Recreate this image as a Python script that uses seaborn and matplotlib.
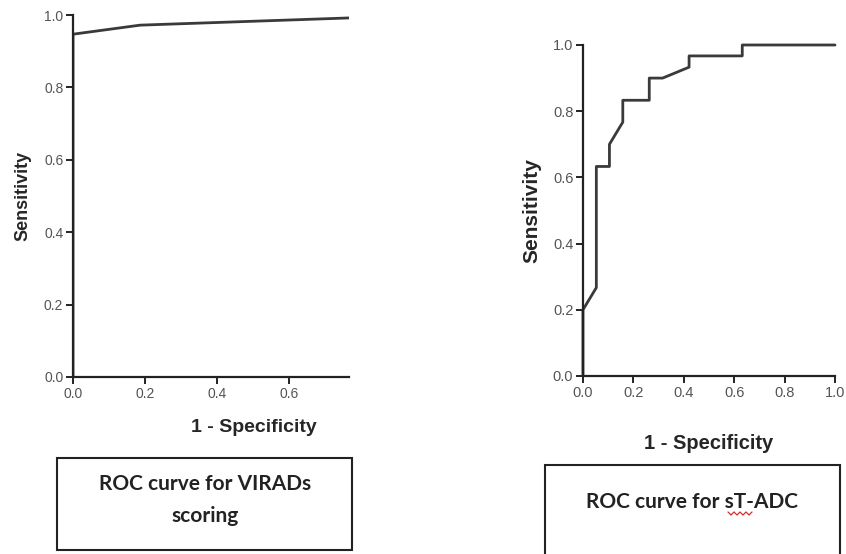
import matplotlib
matplotlib.use("Agg")
import matplotlib.pyplot as plt
from matplotlib.patches import Rectangle
from matplotlib.lines import Line2D
import numpy as np
import pandas as pd
import seaborn as sns

# ROC for VIRADs scoring (left panel, cropped at ~0.77 on x)
virads_fpr = [0.0, 0.0, 0.186, 1.0]
virads_tpr = [0.0, 0.947, 0.972, 1.0]

# ROC for sT-ADC (right panel)
adc_fpr = [0.0, 0.0, 0.053, 0.053, 0.105, 0.105, 0.158, 0.158, 0.263, 0.263,
           0.316, 0.421, 0.421, 0.632, 0.632, 1.0]
adc_tpr = [0.0, 0.2, 0.267, 0.633, 0.633, 0.7, 0.767, 0.833, 0.833, 0.9,
           0.9, 0.933, 0.967, 0.967, 1.0, 1.0]

ticks = [0.0, 0.2, 0.4, 0.6, 0.8, 1.0]
tick_labels = ['0.0', '0.2', '0.4', '0.6', '0.8', '1.0']

sns.set_style("ticks")
plt.rcParams['font.family'] = ['Liberation Sans', 'DejaVu Sans']

fig = plt.figure(figsize=(8.46, 5.54), dpi=100)

line_col = '#3a3a3a'
tick_col = '#555555'


def style_axis(ax, xlim, lab_size):
    ax.set_xlim(*xlim)
    ax.set_ylim(0, 1)
    sns.despine(ax=ax)
    for s in ['left', 'bottom']:
        ax.spines[s].set_linewidth(1.6)
        ax.spines[s].set_color('#222222')
    ax.set_xticks([t for t in ticks if t <= xlim[1] + 1e-9])
    ax.set_xticklabels([l for t, l in zip(ticks, tick_labels) if t <= xlim[1] + 1e-9])
    ax.set_yticks(ticks)
    ax.set_yticklabels(tick_labels)
    ax.tick_params(axis='both', length=5, width=1.4, color='#222222',
                   labelsize=lab_size, labelcolor=tick_col, pad=2)


# left panel
ax1 = fig.add_axes([0.0863, 0.3195, 0.3262, 0.6534])
df1 = pd.DataFrame({'fpr': virads_fpr, 'tpr': virads_tpr})
sns.lineplot(data=df1, x='fpr', y='tpr', ax=ax1, sort=False, estimator=None,
             color=line_col, linewidth=2)
style_axis(ax1, (0, 0.765), 10)
ax1.set_ylabel('Sensitivity', fontsize=13, fontweight='bold')
ax1.set_xlabel('1 - Specificity', fontsize=14, fontweight='bold')
ax1.yaxis.set_label_coords(-0.149, 0.5)
ax1.xaxis.set_label_coords(0.5 / 0.765, -0.115)

# right panel
ax2 = fig.add_axes([0.6891, 0.3213, 0.2979, 0.5975])
df2 = pd.DataFrame({'fpr': adc_fpr, 'tpr': adc_tpr})
sns.lineplot(data=df2, x='fpr', y='tpr', ax=ax2, sort=False, estimator=None,
             color=line_col, linewidth=2)
for ln in ax2.lines:
    ln.set_clip_on(False)
style_axis(ax2, (0, 1.0), 10.5)
ax2.set_ylabel('Sensitivity', fontsize=15, fontweight='bold')
ax2.set_xlabel('1 - Specificity', fontsize=14.5, fontweight='bold')
ax2.yaxis.set_label_coords(-0.163, 0.5)
ax2.xaxis.set_label_coords(0.5, -0.175)

# caption boxes
fig.patches.append(Rectangle((57 / 846, 1 - 550 / 554), 295 / 846, 92 / 554,
                             transform=fig.transFigure, fill=False,
                             edgecolor='#222222', linewidth=1.5))
fig.patches.append(Rectangle((545 / 846, -0.01), 295 / 846, 1 - 465 / 554 + 0.01,
                             transform=fig.transFigure, fill=False,
                             edgecolor='#222222', linewidth=1.5, clip_on=False))
fig.text(205 / 846, 1 - 500 / 554, 'ROC curve for VIRADs\nscoring', ha='center',
         va='center', fontsize=15, fontweight='bold', linespacing=1.8,
         family=['Lato', 'DejaVu Sans'], color='#222222')
fig.text(692 / 846, 1 - 502 / 554, 'ROC curve for sT-ADC', ha='center',
         va='center', fontsize=15, fontweight='bold',
         family=['Lato', 'DejaVu Sans'], color='#222222')

# red spell-check squiggle under "sT"
sx = np.linspace(728, 752, 9)
sy = np.where(np.arange(9) % 2 == 0, 512, 515)
fig.lines.append(Line2D(sx / 846, 1 - sy / 554, transform=fig.transFigure,
                        color='#d03030', linewidth=0.9))

fig.savefig('out.png', dpi=100)
